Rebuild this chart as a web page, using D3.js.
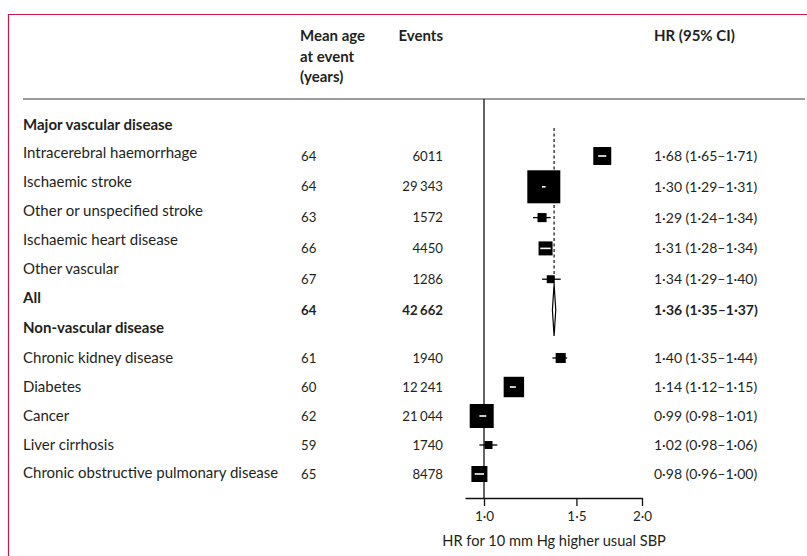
<!DOCTYPE html>
<html>
<head>
<meta charset="utf-8">
<script src="https://cdn.jsdelivr.net/npm/d3@7"></script>
<style>
  html, body { margin: 0; padding: 0; background: #fff; }
  svg { display: block; }
  text { font-family: Lato, "Noto Sans", sans-serif; fill: #231f20; }
</style>
</head>
<body>
<svg id="chart" width="807" height="556"></svg>
<script>
// ---- Data ----
const sections = ["Major vascular disease", "Non-vascular disease"];
const outcomes = [
  "Intracerebral haemorrhage", "Ischaemic stroke", "Other or unspecified stroke",
  "Ischaemic heart disease", "Other vascular", "All",
  "Chronic kidney disease", "Diabetes", "Cancer", "Liver cirrhosis",
  "Chronic obstructive pulmonary disease"
];
const sectionOf = [0, 0, 0, 0, 0, 0, 1, 1, 1, 1, 1];
const isTotal   = [false, false, false, false, false, true, false, false, false, false, false];
const meanAge   = [64, 64, 63, 66, 67, 64, 61, 60, 62, 59, 65];
const events    = [6011, 29343, 1572, 4450, 1286, 42662, 1940, 12241, 21044, 1740, 8478];
const hr        = [1.68, 1.30, 1.29, 1.31, 1.34, 1.36, 1.40, 1.14, 0.99, 1.02, 0.98];
const ciLow     = [1.65, 1.29, 1.24, 1.28, 1.29, 1.35, 1.35, 1.12, 0.98, 0.98, 0.96];
const ciHigh    = [1.71, 1.31, 1.34, 1.34, 1.40, 1.37, 1.44, 1.15, 1.01, 1.06, 1.00];
const weightPct = [10.2, 34.4, 2.6, 6.2, 2.0, null, 3.2, 13.2, 18.2, 2.0, 8.1];
const xTicks    = [1.0, 1.5, 2.0];
const headers   = { age: ["Mean age", "at event", "(years)"], events: "Events", hr: "HR (95% CI)" };
const xTitle    = "HR for 10 mm Hg higher usual SBP";

// ---- Formatting helpers ----
const dec2 = d3.format(".2f"), dec1 = d3.format(".1f");
const mid = s => s.replace(".", "\u00b7");
const fmtHR = v => mid(dec2(v));
// split five-digit counts into thousands groups (drawn with a small gap)
const eventParts = n => { const s = String(n); return s.length > 4 ? [s.slice(0, -3), s.slice(-3)] : [s]; };

// ---- Layout ----
const svg = d3.select("#chart");
const red = "#c8164a";
const W = 807, H = 556;

// frame
svg.append("line").attr("x1", 8).attr("x2", W).attr("y1", 14.5).attr("y2", 14.5)
  .attr("stroke", red).attr("stroke-width", 1.2);
svg.append("line").attr("x1", 8.5).attr("x2", 8.5).attr("y1", 14).attr("y2", H)
  .attr("stroke", red).attr("stroke-width", 1.2);

const colLabel = 23, colAge = 301, colEvents = 443, colHR = 654;
const fsText = 15, fsNum = 13.2, fsHR = 14;

// header
const hdr = svg.append("g").attr("font-weight", 700).attr("font-size", fsText);
headers.age.forEach((t, i) => hdr.append("text").attr("x", colAge - 1).attr("y", 36 + i * 20.5).attr("dy", "0.35em").text(t));
hdr.append("text").attr("x", colEvents).attr("y", 36).attr("dy", "0.35em").attr("text-anchor", "end").text(headers.events);
hdr.append("text").attr("x", colHR).attr("y", 36).attr("dy", "0.35em").text(headers.hr);
svg.append("line").attr("x1", 23).attr("x2", 805).attr("y1", 99).attr("y2", 99)
  .attr("stroke", "#3a3a3a").attr("stroke-width", 1.2);

// row positions, one scale per section for values and one for labels
const idx = d3.range(outcomes.length);
const secRows = [idx.filter(i => sectionOf[i] === 0), idx.filter(i => sectionOf[i] === 1)];
const yVal = [
  d3.scalePoint().domain(secRows[0]).range([156, 310]),
  d3.scalePoint().domain(secRows[1]).range([358, 474])
];
const yLab = [
  d3.scalePoint().domain(secRows[0]).range([153, 298]),
  d3.scalePoint().domain(secRows[1]).range([358, 473])
];
const secY = [125, 328];
const vy = i => yVal[sectionOf[i]](i);
const ly = i => yLab[sectionOf[i]](i);

// x scale (log)
const x = d3.scaleLog().domain([0.92, 2]).range([465, 642]);
const size = d3.scaleSqrt().domain([0, d3.max(weightPct)]).range([0, 33]);

// section titles
sections.forEach((s, k) => svg.append("text").attr("x", colLabel).attr("y", secY[k]).attr("dy", "0.35em")
  .attr("font-size", fsText).attr("font-weight", 700).text(s));

// text columns
const rows = svg.append("g");
idx.forEach(i => {
  const fw = isTotal[i] ? 700 : 400;
  rows.append("text").attr("x", colLabel).attr("y", ly(i)).attr("dy", "0.35em").attr("font-size", fsText).attr("font-weight", fw).text(outcomes[i]);
  rows.append("text").attr("x", colAge).attr("y", vy(i)).attr("dy", "0.35em").attr("font-size", fsNum).attr("font-weight", fw).text(meanAge[i]);
  const ev = rows.append("text").attr("x", colEvents).attr("y", vy(i)).attr("dy", "0.35em").attr("text-anchor", "end")
    .attr("font-size", fsNum).attr("font-weight", fw);
  eventParts(events[i]).forEach((p, k) => ev.append("tspan").attr("dx", k ? 2.5 : 0).text(p));
  rows.append("text").attr("x", colHR).attr("y", vy(i)).attr("dy", "0.35em").attr("font-size", fsHR).attr("font-weight", fw)
    .text(`${fmtHR(hr[i])} (${fmtHR(ciLow[i])}\u2013${fmtHR(ciHigh[i])})`);
});

// axis
const axisY = 498;
svg.append("line").attr("x1", x(1)).attr("x2", x(1)).attr("y1", 99).attr("y2", axisY)
  .attr("stroke", "#111").attr("stroke-width", 1.3);
const axis = d3.axisBottom(x).tickValues(xTicks).tickSize(8).tickSizeOuter(0).tickFormat(v => mid(dec1(v)));
const ag = svg.append("g").attr("transform", `translate(0,${axisY})`).call(axis);
ag.select(".domain").attr("stroke", "#111").attr("stroke-width", 1.3);
ag.selectAll(".tick line").attr("stroke", "#111").attr("stroke-width", 1.3);
ag.selectAll(".tick text").attr("font-size", 13.5).attr("font-family", "Lato, 'Noto Sans', sans-serif").attr("fill", "#231f20").attr("dy", "0.9em");
svg.append("text").attr("x", x(1.36)).attr("y", 541).attr("dy", "0.35em").attr("text-anchor", "middle")
  .attr("font-size", 14.6).text(xTitle);

// overall reference line (dashed)
const tot = idx.find(i => isTotal[i]);
const diamondH = 26;
svg.append("line").attr("x1", x(hr[tot])).attr("x2", x(hr[tot])).attr("y1", 128).attr("y2", vy(tot) - diamondH)
  .attr("stroke", "#111").attr("stroke-width", 1.2).attr("stroke-dasharray", "3,2.5");

// squares and CIs
const marks = svg.append("g");
idx.filter(i => !isTotal[i]).forEach(i => {
  const s = size(weightPct[i]);
  const cx = x(hr[i]), cy = vy(i);
  const bx0 = cx - s / 2, bx1 = cx + s / 2;
  const lo = x(ciLow[i]), hi = x(ciHigh[i]);
  const inside = lo >= bx0 && hi <= bx1;
  if (!inside) marks.append("line").attr("x1", lo).attr("x2", hi).attr("y1", cy).attr("y2", cy).attr("stroke", "#000").attr("stroke-width", 1.3);
  marks.append("rect").attr("x", bx0).attr("y", cy - s / 2).attr("width", s).attr("height", s).attr("fill", "#000");
  // an interval narrower than its square is shown in white on the square
  if (inside) marks.append("line").attr("x1", lo).attr("x2", hi).attr("y1", cy).attr("y2", cy).attr("stroke", "#fff").attr("stroke-width", 1.6);
});

// diamond for the overall estimate
{
  const cy = vy(tot);
  const pts = [[x(ciLow[tot]), cy], [x(hr[tot]), cy - diamondH], [x(ciHigh[tot]), cy], [x(hr[tot]), cy + diamondH]];
  marks.append("path").attr("d", d3.line()(pts) + "Z").attr("fill", "#fff").attr("stroke", "#000").attr("stroke-width", 1.2);
}
</script>
</body>
</html>
